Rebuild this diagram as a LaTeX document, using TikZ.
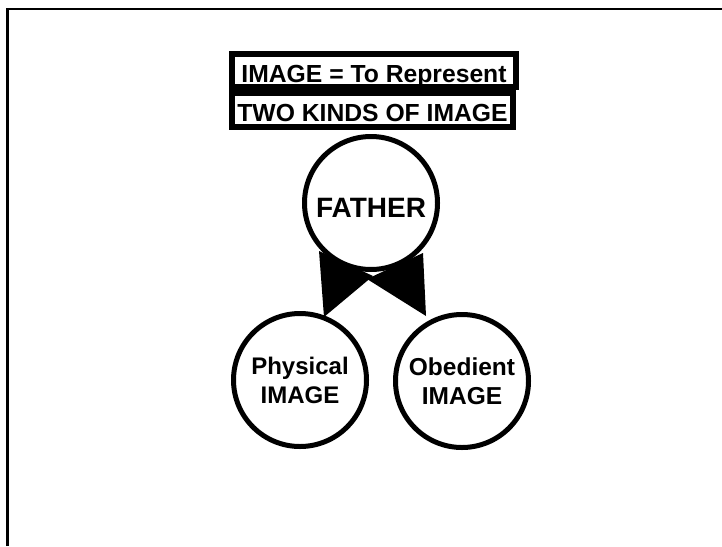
\documentclass[tikz,border=0pt]{standalone}
\usepackage{fontspec}
\setmainfont{Liberation Sans}
\usetikzlibrary{calc}
\pgfdeclarelayer{background}
\pgfsetlayers{background,main}
\begin{document}
\begin{tikzpicture}[x=1pt,y=-1pt,
  box/.style={draw, line width=6pt, inner sep=0pt, text height=23pt, text depth=0pt,
    font=\fontsize{24.7}{29}\selectfont\bfseries},
  ring/.style={circle, draw, line width=5pt, fill=white, minimum size=133pt,
    inner sep=0pt, align=center},
  wedge/.style={fill=black}]
\useasboundingbox (0,0) rectangle (722,546);
\draw[line width=2.5pt] (7.5,546) -- (7.5,9) -- (722,9);

\node[box, minimum width=284pt, minimum height=33pt] (def) at (374,70.5) {IMAGE = To Represent};
\node[box, minimum width=281pt, minimum height=34pt] (kinds) at (372.5,110) {TWO KINDS OF IMAGE};

\node[ring, font=\fontsize{28}{30}\selectfont\bfseries, text height=29pt, text depth=0pt] (father) at (371,203) {FATHER};
\node[ring, font=\fontsize{24}{29}\selectfont\bfseries] (phys) at (300,380) {Physical\\IMAGE};
\node[ring, font=\fontsize{24.5}{29}\selectfont\bfseries] (obed) at (462,381) {Obedient\\IMAGE};

\begin{pgfonlayer}{background}
\fill[wedge] ($(father)+(-52,48)$) -- ($(father)+(2,73)$) -- ($(phys)+(24,-63)$) -- cycle;
\fill[wedge] ($(father)+(52,50)$) -- ($(father)+(-4,76)$) -- ($(obed)+(-36,-65)$) -- cycle;
\end{pgfonlayer}
\end{tikzpicture}
\end{document}
